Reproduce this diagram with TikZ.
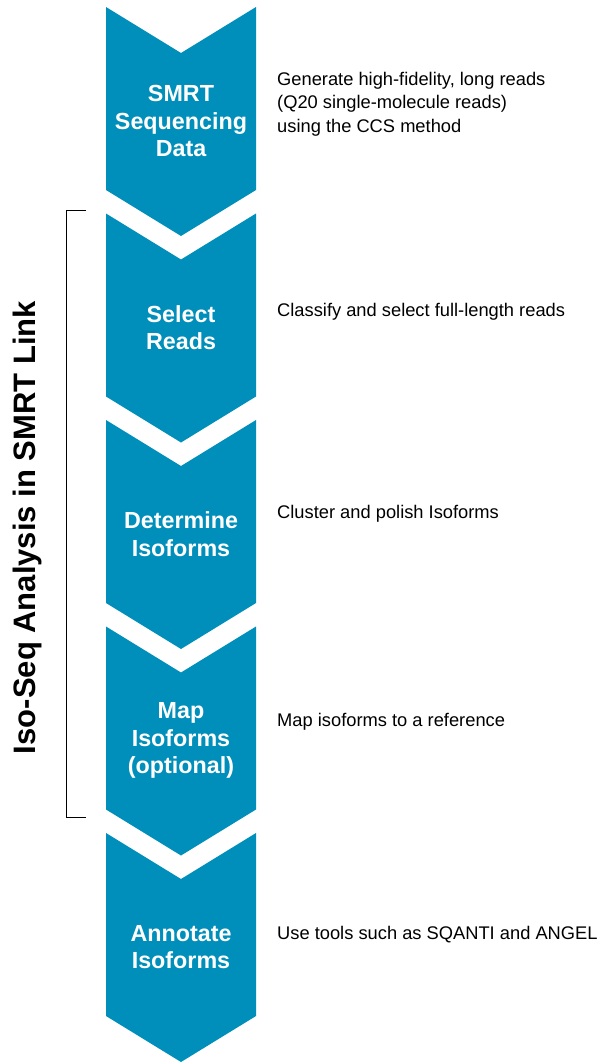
\documentclass[tikz,border=0pt]{standalone}
\usepackage{fontspec}
\setmainfont{Liberation Sans}
\definecolor{isoblue}{RGB}{0,142,186}
\begin{document}
\begin{tikzpicture}[x=1pt,y=-1pt]
    \tikzstyle{chevron}=[fill=isoblue]
    \tikzstyle{steplabel}=[text=white, align=center, font=\bfseries\fontsize{23.3}{27.5}\selectfont]
    \tikzstyle{desc}=[anchor=west, align=left, inner sep=0pt, font=\fontsize{18.3}{23.5}\selectfont]
    \useasboundingbox (0,0) rectangle (606,1062);
    % the five steps, top to bottom
    \foreach \t/\name/\lbl/\txt/\ty in {
        7/smrt/{SMRT\\Sequencing\\Data}/{Generate high-fidelity, long reads\\(Q20 single-molecule reads)\\using the CCS method}/104,
        213.5/select/{Select\\Reads}/{Classify and select full-length reads}/312,
        420/determine/{Determine\\Isoforms}/{Cluster and polish Isoforms}/514,
        626.5/map/{Map\\Isoforms\\(optional)}/{Map isoforms to a reference}/722,
        833/annotate/{Annotate\\Isoforms}/{Use tools such as SQANTI and ANGEL}/935} {
        \fill[chevron] (106,\t) -- (181,\t+46) -- (256,\t) -- (256,\t+183)
                       -- (181,\t+229) -- (106,\t+183) -- cycle;
        \node[steplabel] (\name) at (181,\t+114) {\lbl};
        \node[desc] (\name-desc) at (277,\ty) {\txt};
    }
    % bracket for the SMRT Link part
    \coordinate (brtop) at (86,210);
    \coordinate (brbot) at (86,817);
    \draw[line width=0.8pt] (brtop) -- ++(-20,0) |- (brbot);
    \node[rotate=90, font=\bfseries\fontsize{31}{36}\selectfont] (smrtlink) at (27,527.5) {Iso-Seq Analysis in SMRT Link};

\end{tikzpicture}
\end{document}
